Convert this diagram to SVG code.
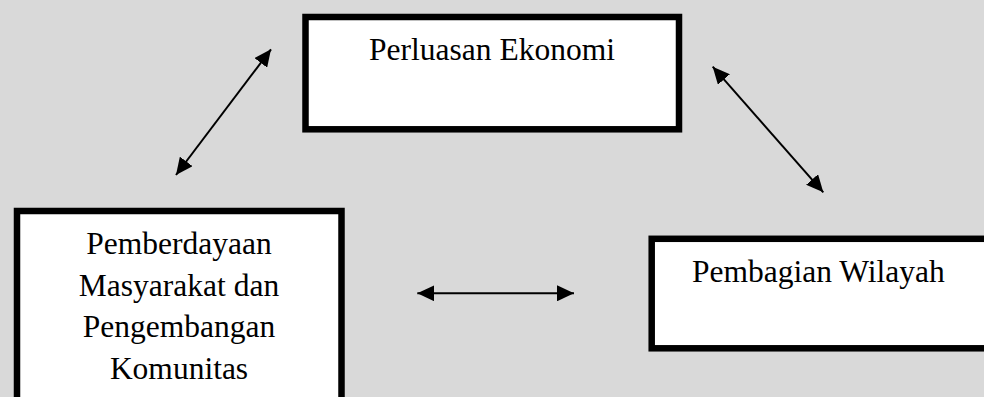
<svg xmlns="http://www.w3.org/2000/svg" width="984" height="397" viewBox="0 0 984 397">
  <style>
    .box { fill: #ffffff; stroke: #000000; stroke-width: 6.5; }
    .label { font-family: "Liberation Serif", "Times New Roman", serif; font-size: 31.5px; fill: #000000; }
    .mid { text-anchor: middle; }
    .link { stroke: #000000; stroke-width: 2; fill: none; marker-start: url(#head); marker-end: url(#head); }
  </style>
  <defs>
    <marker id="head" markerUnits="userSpaceOnUse" markerWidth="18" markerHeight="16" viewBox="0 0 18 16" refX="17" refY="8" orient="auto-start-reverse">
      <path d="M0,0 L17,8 L0,16 Z" fill="#000000"/>
    </marker>
  </defs>

  <rect width="984" height="397" fill="#d9d9d9"/>

  <g id="perluasan-ekonomi">
    <rect class="box" x="305.5" y="17" width="373.5" height="112.3"/>
    <text class="label mid" x="492" y="60">Perluasan Ekonomi</text>
  </g>

  <g id="pemberdayaan-masyarakat">
    <rect class="box" x="17" y="211" width="324.5" height="200"/>
    <text class="label mid" x="179" y="253.5">Pemberdayaan</text>
    <text class="label mid" x="179" y="295.5">Masyarakat dan</text>
    <text class="label mid" x="179" y="337">Pengembangan</text>
    <text class="label mid" x="179" y="378.5">Komunitas</text>
  </g>

  <g id="pembagian-wilayah">
    <rect class="box" x="651.7" y="238.8" width="345" height="109.5"/>
    <text class="label" x="692" y="281.7">Pembagian Wilayah</text>
  </g>

  <g id="connectors">
    <line class="link" x1="176" y1="175" x2="271" y2="49.3"/>
    <line class="link" x1="712.7" y1="66.7" x2="823.3" y2="192.3"/>
    <line class="link" x1="417.3" y1="293.3" x2="574" y2="293.3"/>
  </g>
</svg>
